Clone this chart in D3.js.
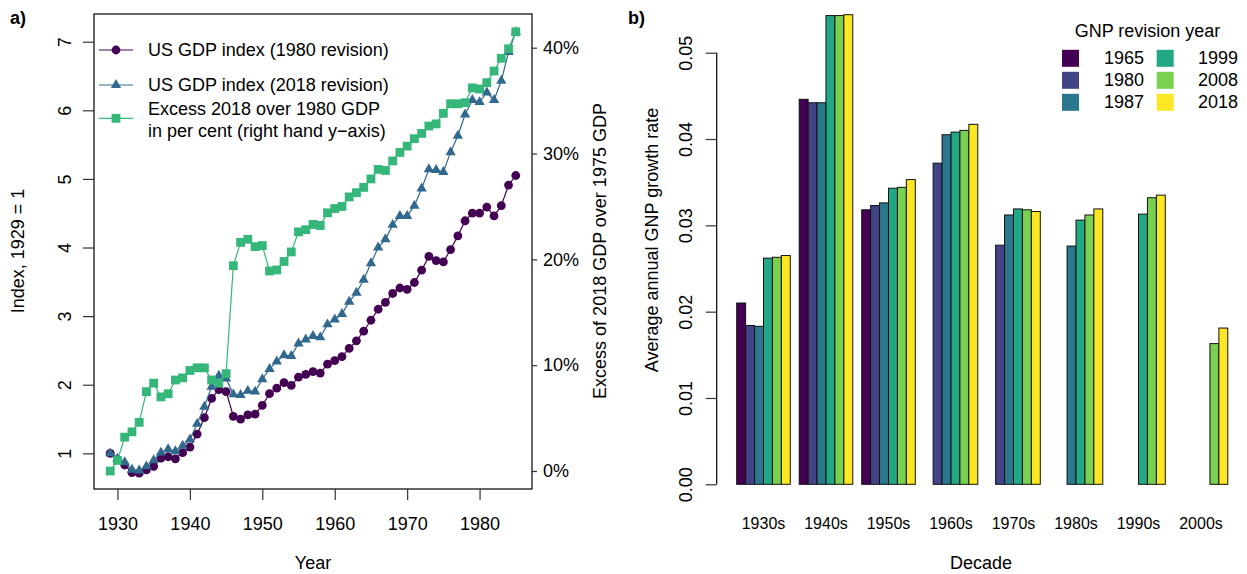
<!DOCTYPE html>
<html>
<head>
<meta charset="utf-8">
<script src="https://cdn.jsdelivr.net/npm/d3@7"></script>
<style>
  html, body { margin: 0; padding: 0; background: #fff; }
  svg { display: block; font-family: "Liberation Sans", Arial, Helvetica, sans-serif; }
</style>
</head>
<body>
<svg id="chart" width="1247" height="574"></svg>
<script>
// ---------- Panel a) data ----------
const years = [1929,1930,1931,1932,1933,1934,1935,1936,1937,1938,
               1939,1940,1941,1942,1943,1944,1945,1946,1947,1948,
               1949,1950,1951,1952,1953,1954,1955,1956,1957,1958,
               1959,1960,1961,1962,1963,1964,1965,1966,1967,1968,
               1969,1970,1971,1972,1973,1974,1975,1976,1977,1978,
               1979,1980,1981,1982,1983,1984,1985];
const gdp1980 = [1.00,0.91,0.83,0.72,0.71,0.76,0.81,0.93,0.95,0.92,
                 1.01,1.09,1.28,1.52,1.80,1.93,1.90,1.54,1.50,1.56,
                 1.57,1.70,1.87,1.95,2.03,1.99,2.11,2.15,2.19,2.17,
                 2.30,2.35,2.41,2.53,2.64,2.78,2.94,3.10,3.20,3.33,
                 3.41,3.39,3.49,3.67,3.87,3.81,3.79,3.97,4.17,4.39,
                 4.50,4.50,4.59,4.46,4.61,4.91,5.05];
const gdp2018 = [1.00,0.92,0.87,0.76,0.75,0.81,0.90,1.01,1.06,1.03,
                 1.11,1.20,1.43,1.68,1.97,2.13,2.09,1.86,1.85,1.91,
                 1.90,2.08,2.23,2.34,2.43,2.42,2.60,2.66,2.71,2.69,
                 2.88,2.95,3.03,3.21,3.34,3.53,3.77,4.00,4.12,4.33,
                 4.46,4.46,4.61,4.86,5.14,5.13,5.10,5.39,5.63,5.94,
                 6.15,6.12,6.26,6.15,6.43,6.85,7.14];
const excessPct = [0.0,1.0,3.2,3.7,4.6,7.5,8.3,7.0,7.3,8.6,
                   8.8,9.5,9.75,9.75,8.6,8.3,9.2,19.4,21.6,21.9,
                   21.2,21.3,18.9,19.0,19.8,20.7,22.6,22.8,23.3,23.2,
                   24.4,24.8,25.0,25.9,26.3,26.8,27.6,28.5,28.4,29.3,
                   30.1,30.7,31.4,31.9,32.6,32.8,33.8,34.7,34.7,34.8,
                   36.2,36.1,36.7,37.8,39.0,39.9,41.5];
const xTicksA = [1930,1940,1950,1960,1970,1980];
const yTicksA = [1,2,3,4,5,6,7];
const yTicksPct = [0,10,20,30,40];
const seriesNamesA = ["US GDP index (1980 revision)", "US GDP index (2018 revision)",
                      ["Excess 2018 over 1980 GDP", "in per cent (right hand y\u2212axis)"]];

// ---------- Panel b) data ----------
const decades = ["1930s","1940s","1950s","1960s","1970s","1980s","1990s","2000s"];
const revisions = ["1965","1980","1987","1999","2008","2018"];
const rev1965 = [0.0210,0.0446,0.0318,null,  null,  null,  null,  null];
const rev1980 = [0.0184,0.0442,0.0323,0.0372,0.0277,null,  null,  null];
const rev1987 = [0.0183,0.0442,0.0326,0.0405,0.0312,0.0276,null,  null];
const rev1999 = [0.0262,0.0543,0.0343,0.0408,0.0319,0.0306,0.0313,null];
const rev2008 = [0.0263,0.0543,0.0344,0.0410,0.0318,0.0312,0.0332,0.0163];
const rev2018 = [0.0265,0.0544,0.0353,0.0417,0.0316,0.0319,0.0335,0.0181];
const yTicksB = [0,0.01,0.02,0.03,0.04,0.05];

const revValues = [rev1965, rev1980, rev1987, rev1999, rev2008, rev2018];
const revColors = ["#440154","#414487","#2A788E","#22A884","#7AD151","#FDE725"];
const colA = ["#440154","#31688E","#35B779"];

const svg = d3.select("#chart");
const FS = 18;

// ================= Panel a =================
const xA = d3.scaleLinear().domain([1926.76, 1987.24]).range([94, 532]);
const yA = d3.scaleLinear().domain([0.48, 7.404]).range([489, 14]);
const yP = d3.scaleLinear().domain([0, 40]).range([471, 47.7]);

const gA = svg.append("g");

// box
gA.append("rect").attr("x", 94).attr("y", 14).attr("width", 438).attr("height", 475)
  .attr("fill", "none").attr("stroke", "#000").attr("stroke-width", 1.2);

// bottom axis
const axB = d3.axisBottom(xA).tickValues(xTicksA).tickFormat(d3.format("d")).tickSize(11).tickPadding(17);
const gxA = gA.append("g").attr("transform", "translate(0,489)").call(axB);
gxA.select(".domain").remove();
gxA.selectAll("line").attr("stroke", "#333").attr("stroke-width", 1.2);
gxA.selectAll("text").attr("font-size", FS).attr("font-family", null).attr("fill", "#000").attr("dy", "0.71em");

// left axis (labels rotated)
const axL = d3.axisLeft(yA).tickValues(yTicksA).tickSize(11).tickFormat(d3.format("d"));
const gyA = gA.append("g").attr("transform", "translate(94,0)").call(axL);
gyA.select(".domain").remove();
gyA.selectAll("line").attr("stroke", "#333").attr("stroke-width", 1.2);
gyA.selectAll("text").remove();
gyA.selectAll(".tick").append("text")
  .attr("transform", "translate(-29,0) rotate(-90)")
  .attr("text-anchor", "middle").attr("dominant-baseline", "central")
  .attr("font-size", FS).attr("fill", "#000")
  .text(d => d);

// right axis
const axR = d3.axisRight(yP).tickValues(yTicksPct).tickSize(5).tickPadding(6).tickFormat(d => d + "%");
const gyR = gA.append("g").attr("transform", "translate(532,0)").call(axR);
gyR.select(".domain").remove();
gyR.selectAll("line").attr("stroke", "#333").attr("stroke-width", 1.2);
gyR.selectAll("text").attr("font-size", FS).attr("font-family", null).attr("fill", "#000");

// axis titles
gA.append("text").attr("x", 313).attr("y", 563).attr("text-anchor", "middle")
  .attr("dominant-baseline", "central").attr("font-size", FS).text("Year");
gA.append("text").attr("transform", "translate(18,251) rotate(-90)").attr("text-anchor", "middle")
  .attr("dominant-baseline", "central").attr("font-size", FS).text("Index, 1929 = 1");
gA.append("text").attr("transform", "translate(600,251) rotate(-90)").attr("text-anchor", "middle")
  .attr("dominant-baseline", "central").attr("font-size", FS).text("Excess of 2018 GDP over 1975 GDP");
gA.append("text").attr("x", 10).attr("y", 24).attr("font-size", FS).attr("font-weight", "bold").text("a)");

const idx = years.map((y, i) => i);

// series 1: circles
gA.append("path").datum(idx).attr("fill", "none").attr("stroke", colA[0]).attr("stroke-width", 1.2)
  .attr("d", d3.line().x(i => xA(years[i])).y(i => yA(gdp1980[i])));
gA.selectAll(".c1").data(idx).join("circle")
  .attr("cx", i => xA(years[i])).attr("cy", i => yA(gdp1980[i])).attr("r", 4.4).attr("fill", colA[0]);

// series 2: triangles
const tri = d3.symbol().type(d3.symbolTriangle).size(46);
gA.append("path").datum(idx).attr("fill", "none").attr("stroke", colA[1]).attr("stroke-width", 1.2)
  .attr("d", d3.line().x(i => xA(years[i])).y(i => yA(gdp2018[i])));
gA.selectAll(".t1").data(idx).join("path")
  .attr("transform", i => `translate(${xA(years[i])},${yA(gdp2018[i])})`)
  .attr("d", tri).attr("fill", colA[1]);

// series 3: squares (right axis)
gA.append("path").datum(idx).attr("fill", "none").attr("stroke", colA[2]).attr("stroke-width", 1.2)
  .attr("d", d3.line().x(i => xA(years[i])).y(i => yP(excessPct[i])));
gA.selectAll(".s1").data(idx).join("rect")
  .attr("x", i => xA(years[i]) - 4.4).attr("y", i => yP(excessPct[i]) - 4.4)
  .attr("width", 8.8).attr("height", 8.8).attr("fill", colA[2]);

// legend a
const legA = gA.append("g");
const legRows = [50, 85, 118.3];
legRows.forEach((ly, k) => {
  legA.append("line").attr("x1", 99).attr("x2", 133).attr("y1", ly).attr("y2", ly)
    .attr("stroke", colA[k]).attr("stroke-width", 1.2);
  if (k === 0) legA.append("circle").attr("cx", 116).attr("cy", ly).attr("r", 4.4).attr("fill", colA[0]);
  if (k === 1) legA.append("path").attr("transform", `translate(116,${ly})`).attr("d", tri).attr("fill", colA[1]);
  if (k === 2) legA.append("rect").attr("x", 111.6).attr("y", ly - 4.4).attr("width", 8.8).attr("height", 8.8).attr("fill", colA[2]);
});
legA.append("text").attr("x", 148).attr("y", 50).attr("dominant-baseline", "central").attr("font-size", FS).text(seriesNamesA[0]);
legA.append("text").attr("x", 148).attr("y", 85).attr("dominant-baseline", "central").attr("font-size", FS).text(seriesNamesA[1]);
legA.append("text").attr("x", 148).attr("y", 109.3).attr("dominant-baseline", "central").attr("font-size", FS).text(seriesNamesA[2][0]);
legA.append("text").attr("x", 148).attr("y", 131).attr("dominant-baseline", "central").attr("font-size", FS).text(seriesNamesA[2][1]);

// ================= Panel b =================
const gB = svg.append("g");
const xB = d3.scaleBand().domain(decades).range([736.7, 1227.8]).paddingInner(1/7).paddingOuter(0);
const xR = d3.scaleBand().domain(revisions).range([0, xB.bandwidth()]).padding(0);
const yB = d3.scaleLinear().domain([0, 0.05]).range([484.3, 52.7]);

const barData = [];
decades.forEach((dec, di) => {
  revisions.forEach((rv, ri) => {
    const v = revValues[ri][di];
    if (v !== null) barData.push({dec, rv, v, ri});
  });
});
gB.selectAll(".bar").data(barData).join("rect")
  .attr("x", d => xB(d.dec) + xR(d.rv))
  .attr("y", d => yB(d.v))
  .attr("width", xR.bandwidth())
  .attr("height", d => yB(0) - yB(d.v))
  .attr("fill", d => revColors[d.ri])
  .attr("stroke", "#111").attr("stroke-width", 1);

// y axis b
const axLB = d3.axisLeft(yB).tickValues(yTicksB).tickSize(11).tickFormat(d3.format(".2f"));
const gyB = gB.append("g").attr("transform", "translate(716.7,0)").call(axLB);
gyB.select(".domain").attr("d", `M0,${yB(0)}V${yB(0.05)}`).attr("stroke", "#000").attr("stroke-width", 1.2);
gyB.selectAll("line").attr("stroke", "#333").attr("stroke-width", 1.2);
gyB.selectAll("text").remove();
gyB.selectAll(".tick").append("text")
  .attr("transform", "translate(-30.7,0) rotate(-90)")
  .attr("text-anchor", "middle").attr("dominant-baseline", "central")
  .attr("font-size", FS).attr("fill", "#000")
  .text(d => d3.format(".2f")(d));

// decade labels
gB.selectAll(".declab").data(decades).join("text")
  .attr("x", d => xB(d) + xB.bandwidth() / 2).attr("y", 523.5)
  .attr("text-anchor", "middle").attr("dominant-baseline", "central")
  .attr("font-size", 16).text(d => d);

gB.append("text").attr("x", 981).attr("y", 563).attr("text-anchor", "middle")
  .attr("dominant-baseline", "central").attr("font-size", FS).text("Decade");
gB.append("text").attr("transform", "translate(652,240) rotate(-90)").attr("text-anchor", "middle")
  .attr("dominant-baseline", "central").attr("font-size", FS).text("Average annual GNP growth rate");
gB.append("text").attr("x", 628).attr("y", 24).attr("font-size", FS).attr("font-weight", "bold").text("b)");

// legend b
const legB = gB.append("g");
legB.append("text").attr("x", 1147.5).attr("y", 30.7).attr("text-anchor", "middle")
  .attr("dominant-baseline", "central").attr("font-size", FS).text("GNP revision year");
revisions.forEach((rv, k) => {
  const col = Math.floor(k / 3), row = k % 3;
  const sx = col === 0 ? 1062 : 1156.7;
  const tx = col === 0 ? 1104 : 1198;
  const cy = 58.3 + row * 22;
  legB.append("rect").attr("x", sx).attr("y", cy - 8.5).attr("width", 17).attr("height", 17)
    .attr("fill", revColors[k]);
  legB.append("text").attr("x", tx).attr("y", cy).attr("dominant-baseline", "central")
    .attr("font-size", FS).text(rv);
});
</script>
</body>
</html>
